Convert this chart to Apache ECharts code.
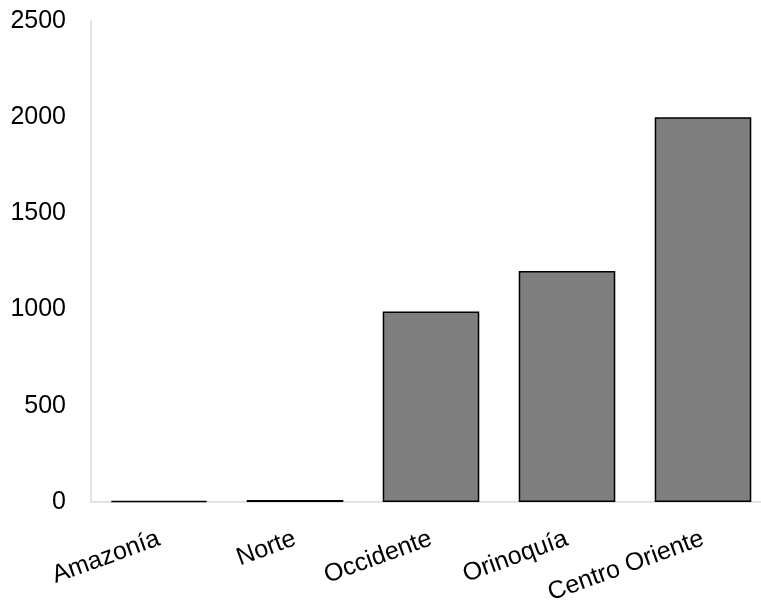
<!DOCTYPE html>
<html><head><meta charset="utf-8">
<script src="https://cdn.jsdelivr.net/npm/echarts@6/dist/echarts.min.js"></script>
<style>html,body{margin:0;padding:0;background:#fff}#c{width:761px;height:602px}</style>
</head><body><div id="c"></div>
<script>
const categories = ["Amazonía", "Norte", "Occidente", "Orinoquía", "Centro Oriente"];
const values = [6, 10, 990, 1200, 2000];
const yTicks = [0, 500, 1000, 1500, 2000, 2500];
const chart = echarts.init(document.getElementById('c'));
chart.setOption({
  animation: false,
  grid: { left: 91, width: 680, top: 21, height: 481, containLabel: false, outerBoundsMode: 'none' },
  xAxis: {
    type: 'category', data: categories,
    axisLine: { lineStyle: { color: '#d9d9d9', width: 1.5 } },
    axisTick: { show: false },
    axisLabel: { rotate: 20, color: '#000', fontSize: 25, fontFamily: 'Liberation Sans, Arial, sans-serif', margin: 36 }
  },
  yAxis: {
    type: 'value', min: yTicks[0], max: yTicks[yTicks.length - 1], interval: 500,
    axisLine: { show: true, lineStyle: { color: '#d9d9d9', width: 1.5 } },
    axisTick: { show: false },
    splitLine: { show: false },
    axisLabel: { color: '#000', fontSize: 25, fontFamily: 'Liberation Sans, Arial, sans-serif', margin: 25, formatter: v => String(v) }
  },
  series: [{
    type: 'bar', data: values, barCategoryGap: '29%',
    itemStyle: { color: '#7f7f7f', borderColor: '#000', borderWidth: 1.5 }
  }]
});
</script></body></html>
